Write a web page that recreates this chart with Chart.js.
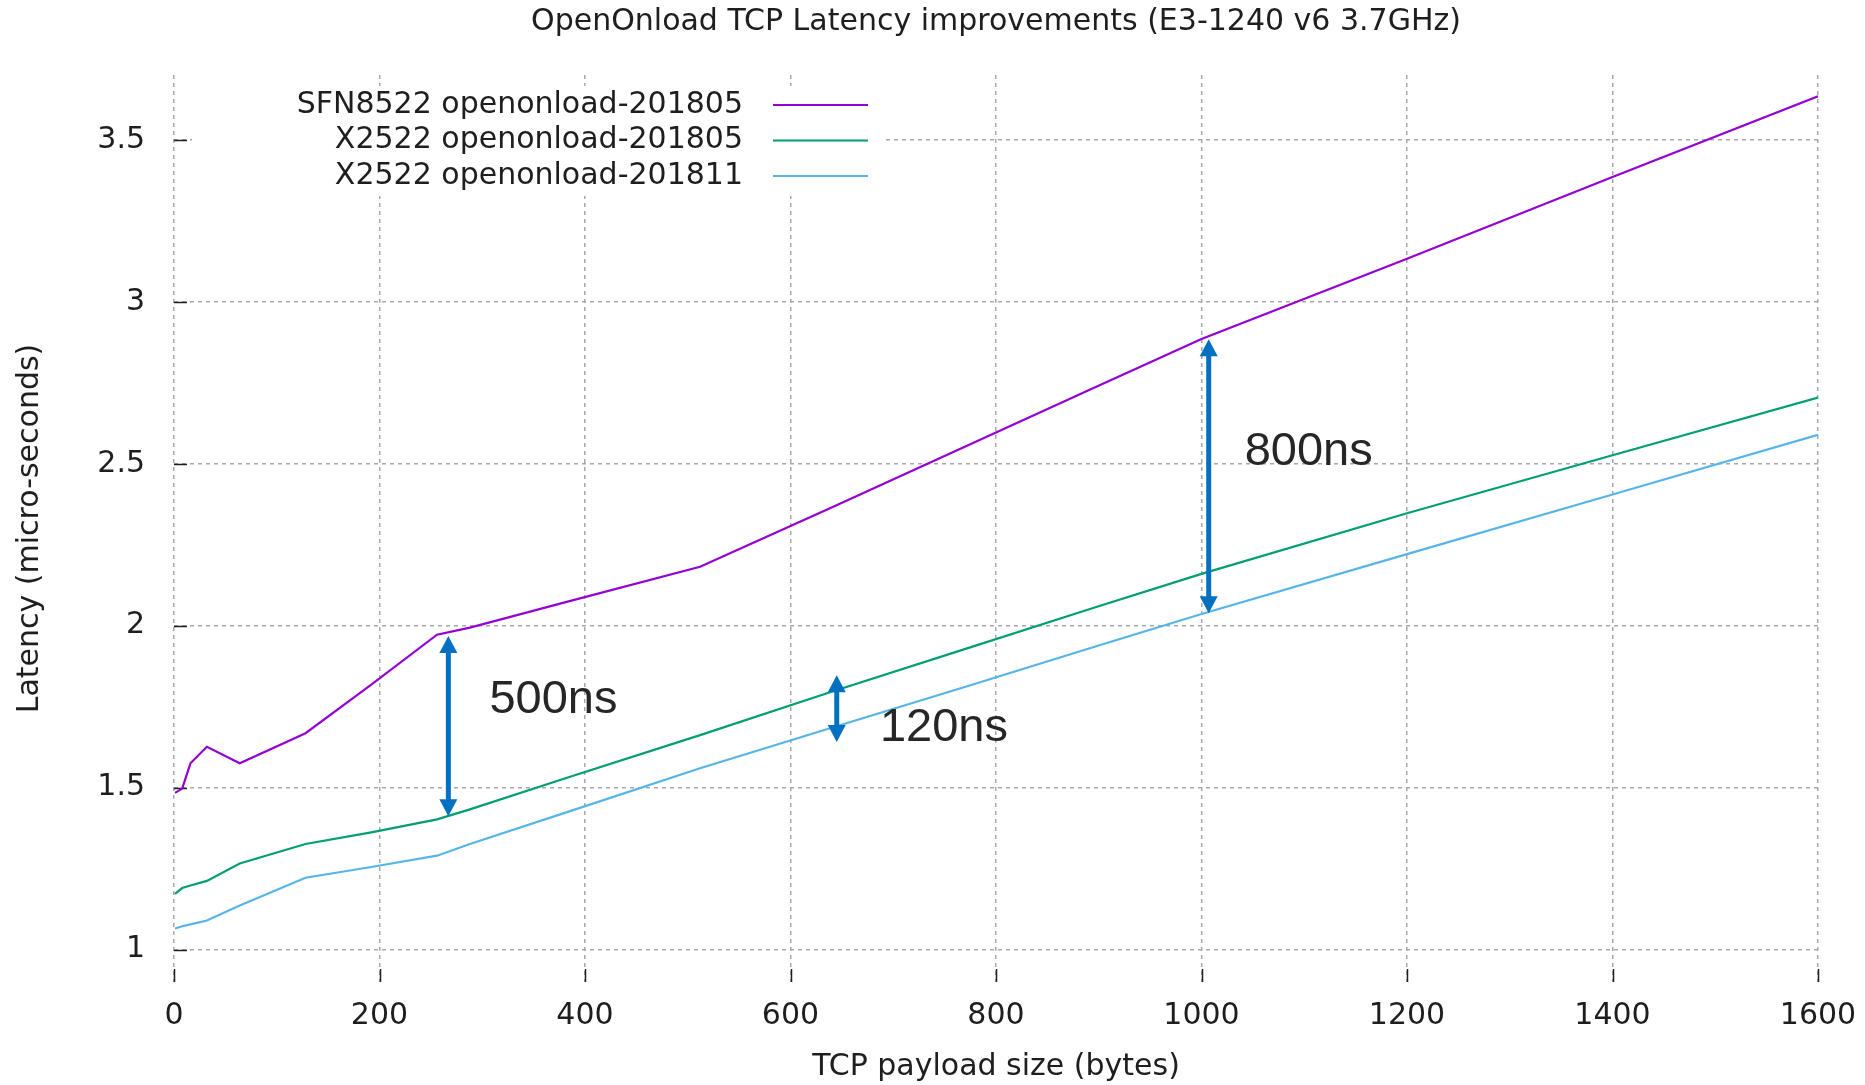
<!DOCTYPE html>
<html>
<head>
<meta charset="utf-8">
<script src="https://cdn.jsdelivr.net/npm/chart.js@4.4.0/dist/chart.umd.min.js"></script>
<style>
html, body { margin: 0; padding: 0; background: #fff; }
canvas { display: block; }
</style>
</head>
<body>
<canvas id="latency" width="1865" height="1085"></canvas>
<script>
'use strict';

// payload sizes (bytes) and latency (micro-seconds)
const payloadSizes = [1, 8, 16, 32, 64, 128, 192, 256, 288, 384, 512, 640, 768, 896, 1000, 1200, 1400, 1600];
const sfn8522_201805 = [1.484, 1.497, 1.575, 1.626, 1.575, 1.668, 1.818, 1.972, 1.994, 2.075, 2.182, 2.365, 2.550, 2.735, 2.885, 3.133, 3.385, 3.634];
const x2522_201805 = [1.172, 1.190, 1.198, 1.212, 1.266, 1.326, 1.362, 1.402, 1.433, 1.532, 1.662, 1.796, 1.926, 2.056, 2.160, 2.347, 2.526, 2.704];
const x2522_201811 = [1.065, 1.072, 1.078, 1.090, 1.136, 1.222, 1.255, 1.290, 1.326, 1.426, 1.560, 1.685, 1.809, 1.935, 2.036, 2.221, 2.405, 2.589];

const seriesLabels = ['SFN8522 openonload-201805', 'X2522 openonload-201805', 'X2522 openonload-201811'];
const seriesColors = ['#9400d3', '#009e73', '#56b4e9'];

const xTicks = [0, 200, 400, 600, 800, 1000, 1200, 1400, 1600];
const yTicks = [1, 1.5, 2, 2.5, 3, 3.5];

// double arrows showing the gaps, with their text
const gapAt = [267, 645, 1007];
const gapLow = [1.412, 1.641, 2.038];
const gapHigh = [1.968, 1.847, 2.884];
const gapText = ['500ns', '120ns', '800ns'];
const gapTextAt = [[307, 1.770], [687, 1.684], [1042, 2.536]];

const GNU_FONT = 'DejaVu Sans';
const TEXT_COL = '#1e1e1e';
const FSIZE = 30;

function toPoints(xs, ys) {
    return xs.map((x, i) => ({x: x, y: ys[i]}));
}

const allSeries = [sfn8522_201805, x2522_201805, x2522_201811];
const datasets = allSeries.map((ys, i) => ({
    label: seriesLabels[i],
    data: toPoints(payloadSizes, ys),
    borderColor: seriesColors[i],
    backgroundColor: seriesColors[i],
    borderWidth: 2.2,
    pointRadius: 0,
    tension: 0,
    fill: false
}));

// gnuplot style key, tick marks inside the plot
const gnuplotBits = {
    id: 'gnuplotBits',
    beforeDatasetsDraw(chart) {
        const ctx = chart.ctx;
        const area = chart.chartArea;
        const xs = chart.scales.x, ys = chart.scales.y;
        ctx.save();
        ctx.strokeStyle = TEXT_COL;
        ctx.lineWidth = 1.5;
        ctx.beginPath();
        xTicks.forEach(v => {
            const px = Math.round(xs.getPixelForValue(v)) + 0.5;
            ctx.moveTo(px, area.bottom);
            ctx.lineTo(px, area.bottom - 13);
        });
        yTicks.forEach(v => {
            const py = Math.round(ys.getPixelForValue(v)) + 0.5;
            ctx.moveTo(area.left, py);
            ctx.lineTo(area.left + 13, py);
        });
        ctx.stroke();

        // key
        ctx.fillStyle = '#fff';
        ctx.fillRect(192, 86, 694, 110);
        ctx.font = FSIZE + 'px "' + GNU_FONT + '"';
        ctx.textAlign = 'right';
        ctx.textBaseline = 'middle';
        seriesLabels.forEach((lab, i) => {
            const y = 105 + i * 35.5;
            ctx.fillStyle = TEXT_COL;
            ctx.fillText(lab, 743, y);
            ctx.strokeStyle = seriesColors[i];
            ctx.lineWidth = 2.2;
            ctx.beginPath();
            ctx.moveTo(773, y);
            ctx.lineTo(868, y);
            ctx.stroke();
        });
        ctx.restore();
    },
    afterDatasetsDraw(chart) {
        const ctx = chart.ctx;
        const xs = chart.scales.x, ys = chart.scales.y;
        ctx.save();
        ctx.strokeStyle = '#0070c0';
        ctx.fillStyle = '#0070c0';
        ctx.lineWidth = 5;
        gapAt.forEach((gx, i) => {
            const px = xs.getPixelForValue(gx);
            const top = ys.getPixelForValue(gapHigh[i]);
            const bot = ys.getPixelForValue(gapLow[i]);
            const head = 17, half = 9;
            ctx.beginPath();
            ctx.moveTo(px, top + head - 2);
            ctx.lineTo(px, bot - head + 2);
            ctx.stroke();
            ctx.beginPath();
            ctx.moveTo(px, top);
            ctx.lineTo(px - half, top + head);
            ctx.lineTo(px + half, top + head);
            ctx.closePath();
            ctx.fill();
            ctx.beginPath();
            ctx.moveTo(px, bot);
            ctx.lineTo(px - half, bot - head);
            ctx.lineTo(px + half, bot - head);
            ctx.closePath();
            ctx.fill();
        });
        ctx.fillStyle = '#262626';
        ctx.font = '47px "Liberation Sans", Arial, sans-serif';
        ctx.textAlign = 'left';
        ctx.textBaseline = 'middle';
        gapText.forEach((t, i) => {
            ctx.fillText(t, xs.getPixelForValue(gapTextAt[i][0]), ys.getPixelForValue(gapTextAt[i][1]));
        });
        ctx.restore();
    }
};

const config = {
    type: 'line',
    data: {datasets: datasets},
    options: {
        responsive: false,
        animation: false,
        devicePixelRatio: 1,
        layout: {padding: {left: 0, top: 0, right: 47, bottom: 0}},
        plugins: {
            legend: {display: false},
            tooltip: {enabled: false},
            title: {
                display: true,
                fullSize: false,
                text: 'OpenOnload TCP Latency improvements (E3-1240 v6 3.7GHz)',
                color: TEXT_COL,
                padding: {top: 4, bottom: 35},
                font: {family: GNU_FONT, size: FSIZE, weight: 'normal'}
            }
        },
        scales: {
            x: {
                type: 'linear',
                min: 0,
                max: 1600,
                afterBuildTicks: s => { s.ticks = xTicks.map(v => ({value: v})); },
                afterFit: s => { s.height = 103; s.paddingLeft = 0; s.paddingRight = 0; },
                grid: {color: '#a8a8a8', lineWidth: 1.5, drawTicks: false},
                border: {display: false, dash: [4, 4]},
                ticks: {color: TEXT_COL, padding: 16, maxRotation: 0, callback: v => String(v),
                    font: {family: GNU_FONT, size: FSIZE}},
                title: {
                    display: true,
                    text: 'TCP payload size (bytes)',
                    color: TEXT_COL,
                    padding: {top: 0, bottom: 0},
                    font: {family: GNU_FONT, size: FSIZE}
                }
            },
            y: {
                type: 'linear',
                min: 0.9,
                max: 3.7,
                afterBuildTicks: s => { s.ticks = yTicks.map(v => ({value: v})); },
                afterFit: s => { s.width = 174; s.paddingTop = 0; s.paddingBottom = 0; },
                grid: {color: '#a8a8a8', lineWidth: 1.5, drawTicks: false},
                border: {display: false, dash: [4, 4]},
                ticks: {color: TEXT_COL, padding: 29, callback: v => String(v),
                    font: {family: GNU_FONT, size: FSIZE}},
                title: {
                    display: true,
                    text: 'Latency (micro-seconds)',
                    color: TEXT_COL,
                    padding: {top: 12, bottom: 0},
                    font: {family: GNU_FONT, size: FSIZE}
                }
            }
        }
    },
    plugins: [gnuplotBits]
};

const ctx = document.querySelector('#latency').getContext('2d');
let latencyChart = new Chart(ctx, config);
</script>
</body>
</html>
